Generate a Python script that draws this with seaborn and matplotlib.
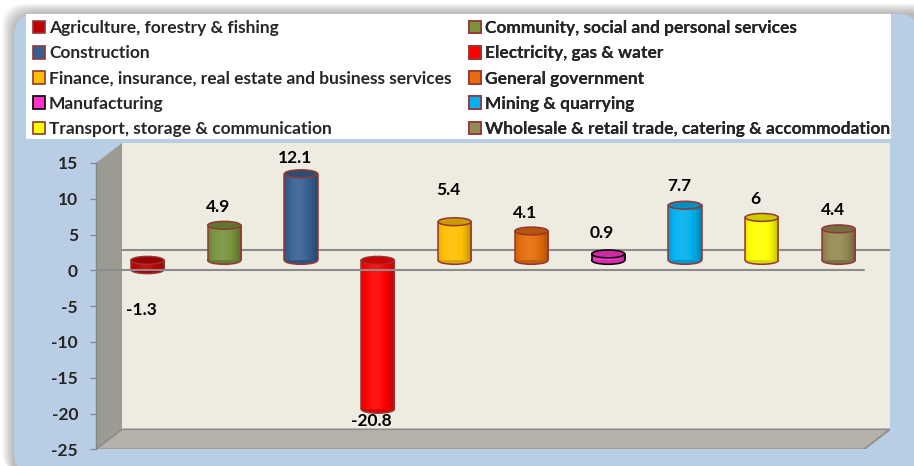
import numpy as np
import pandas as pd
import matplotlib
matplotlib.use("Agg")
import matplotlib.pyplot as plt
import matplotlib.colors as mcolors
from matplotlib import font_manager
import seaborn as sns
from matplotlib.patches import Polygon, Ellipse, FancyBboxPatch, Rectangle, Patch
from matplotlib.transforms import Affine2D

# ---- data -------------------------------------------------------------
sectors = [
    "Agriculture, forestry & fishing",
    "Community, social and personal services",
    "Construction",
    "Electricity, gas & water",
    "Finance, insurance, real estate and business services",
    "General government",
    "Manufacturing",
    "Mining & quarrying",
    "Transport, storage & communication",
    "Wholesale & retail trade, catering & accommodation",
]
growth = [-1.3, 4.9, 12.1, -20.8, 5.4, 4.1, 0.9, 7.7, 6.0, 4.4]
y_ticks = [-25, -20, -15, -10, -5, 0, 5, 10, 15]

# ---- styling ----------------------------------------------------------
bar_colors = ["#C00000", "#77933C", "#376092", "#FF0000", "#FFC000",
              "#E46C0A", "#FF33CC", "#00B0F0", "#FFFF00", "#948A54"]
edge_colors = ["#953735"] * 6 + ["#000000"] + ["#953735"] * 3
label_shift_px = [40, 18, 16, 12, 32, 18, 21, 19, 18, 19]

sns.set_theme(style="white")

# pick a family that really ships a bold face
bold_families = {f.name for f in font_manager.fontManager.ttflist
                 if (f.weight if isinstance(f.weight, int) else 700
                     if "bold" in str(f.weight).lower() else 400) >= 600}
family = next((f for f in ["Lato", "Roboto", "Open Sans", "Noto Sans",
                           "Liberation Sans", "DejaVu Sans"]
               if f in bold_families), "DejaVu Sans")
plt.rcParams["font.family"] = [family, "DejaVu Sans"]

W, H = 914, 466
fig = plt.figure(figsize=(W / 100, H / 100), dpi=100)
fig.patch.set_facecolor("white")
renderer = fig.canvas.get_renderer()

# size the text so the longest legend entry spans about 404 px
probe = fig.text(0, 0, sectors[4], fontsize=10, fontweight="bold")
FS = 10 * 404 / probe.get_window_extent(renderer).width
probe.remove()

# background layer in pixel units
bg = fig.add_axes([0, 0, 1, 1], zorder=-10)
bg.set_xlim(0, W)
bg.set_ylim(H, 0)
bg.axis("off")

# soft shadow up and to the left of the rounded panel
for k in range(12, 0, -1):
    bg.add_patch(FancyBboxPatch((14 - k, 14 - k * 0.9), 940, 470,
                                boxstyle="round,pad=0,rounding_size=24",
                                fc="#000000", ec="none", alpha=0.025))
bg.add_patch(FancyBboxPatch((14, 14), 905, 460,
                            boxstyle="round,pad=0,rounding_size=22",
                            fc="#B9CDE5", ec="none"))
bg.add_patch(Rectangle((26, 14), 865, 125, fc="white", ec="none"))

# ---- plot area with a 3-D box look -------------------------------------
X0, X1 = 96, 890
YB, YT = 449.3, 143
ax = fig.add_axes([X0 / W, (H - YB) / H, (X1 - X0) / W, (YB - YT) / H])
ax.patch.set_alpha(0)

DX = 26 / 76.8      # depth shift in category units
DY = 20 / 7.16      # depth shift in value units
XLIM = (-0.5, 9.5 + DX)
YLIM = (-25, 15 + DY)

df = pd.DataFrame({"sector": sectors, "growth": growth})
sns.barplot(data=df, x="sector", y="growth", hue="sector", order=sectors,
            hue_order=sectors, palette=bar_colors, dodge=False, width=0.43,
            errorbar=None, legend=False, saturation=1, ax=ax)
bars = sorted(ax.patches, key=lambda p: p.get_x())

# walls and floor
ax.add_patch(Rectangle((-0.5 + DX, -25 + DY), 10, 40, fc="#EEECE1",
                       ec="none", zorder=0.1))
ax.add_patch(Polygon([(-0.5, -25), (-0.5, 15), (-0.5 + DX, 15 + DY),
                      (-0.5 + DX, -25 + DY)], closed=True, fc="#9B9A93",
                     ec="none", zorder=0.2))
ax.add_patch(Polygon([(-0.5, -25), (9.5, -25), (9.5 + DX, -25 + DY),
                      (-0.5 + DX, -25 + DY)], closed=True, fc="#B5B2AB",
                     ec="#8C8C8C", lw=1.2, zorder=0.3))
ax.plot([-0.5 + DX, 9.5 + DX], [DY, DY], color="#8C8C8C", lw=1.5, zorder=0.5)
ax.plot([-0.5, 9.5], [0, 0], color="#8C8C8C", lw=1.5, zorder=6)


def shade(color, f):
    rgb = np.array(mcolors.to_rgb(color))
    if f >= 1:
        return rgb + (1 - rgb) * (f - 1)
    return rgb * f


bar_tr = Affine2D().translate(DX / 2, DY / 2) + ax.transData
EH = 1.1
t = np.linspace(0, 1, 80)
profile = 0.86 + 0.26 * np.sin(np.pi * t) ** 0.7 - 0.18 * t ** 2

for p, col, ec, v in zip(bars, bar_colors, edge_colors, growth):
    x0, w = p.get_x(), p.get_width()
    y0, h = p.get_y(), p.get_height()
    top, bot = max(y0, y0 + h), min(y0, y0 + h)
    xc = x0 + w / 2
    p.set_transform(bar_tr)
    p.set_edgecolor("none")
    p.set_zorder(3)

    ax.add_patch(Ellipse((xc, bot), w, EH, fc=shade(col, 0.85), ec=ec,
                         lw=1.1, transform=bar_tr, zorder=2.9))
    img = np.ones((1, len(t), 4))
    img[0, :, :3] = np.array([shade(col, f) for f in profile])
    im = ax.imshow(img, extent=(x0, x0 + w, bot, top), transform=bar_tr,
                   aspect="auto", interpolation="bilinear", zorder=3.1)
    im.set_clip_path(p)
    ax.plot([x0, x0], [bot, top], color=ec, lw=1.1, transform=bar_tr,
            zorder=3.2)
    ax.plot([x0 + w, x0 + w], [bot, top], color=ec, lw=1.1,
            transform=bar_tr, zorder=3.2)
    ax.add_patch(Ellipse((xc, top), w, EH, fc=shade(col, 0.8), ec=ec,
                         lw=1.1, transform=bar_tr, zorder=3.3))

for p, v, sh in zip(bars, growth, label_shift_px):
    xc = p.get_x() + p.get_width() / 2
    dy = sh if v >= 0 else -sh
    ax.annotate(f"{v:g}", xy=(xc, v), xycoords=bar_tr,
                xytext=(-6, dy), textcoords="offset pixels",
                ha="center", va="center", fontsize=FS, fontweight="bold",
                color="black", zorder=7)

ax.set_xlim(*XLIM)
ax.set_ylim(*YLIM)
ax.set_xticks([])
ax.set_xlabel("")
ax.set_ylabel("")
ax.set_yticks(y_ticks)
ax.set_yticklabels([str(v) for v in y_ticks])
ax.tick_params(axis="y", left=True, length=4.3, width=0.9, color="#868686",
               pad=8.6, labelsize=FS)
for lbl in ax.get_yticklabels():
    lbl.set_fontweight("bold")
for s in ("top", "right", "bottom"):
    ax.spines[s].set_visible(False)
ax.spines["left"].set_bounds(-25, 15)
ax.spines["left"].set_color("#868686")
ax.spines["left"].set_linewidth(1.0)

# ---- legend, two columns in row order -----------------------------------
px_per_pt = 100 / 72
fs_px = FS * px_per_pt
handles = [Patch(fc=c, ec=e, lw=1.2) for c, e in zip(bar_colors, edge_colors)]
for col_idx, x_anchor in ((0, 33), (1, 469)):
    idx = list(range(col_idx, len(sectors), 2))
    leg = bg.legend([handles[i] for i in idx], [sectors[i] for i in idx],
                    loc="upper left", bbox_to_anchor=(x_anchor, 20),
                    bbox_transform=bg.transData, frameon=False,
                    borderpad=0, borderaxespad=0,
                    handlelength=12 / fs_px, handleheight=0.885 * 14.6 / fs_px,
                    handletextpad=4 / fs_px, labelspacing=9.3 / fs_px,
                    prop={"size": FS, "weight": "bold"})
    bg.add_artist(leg)

fig.savefig("out.png", dpi=100)
